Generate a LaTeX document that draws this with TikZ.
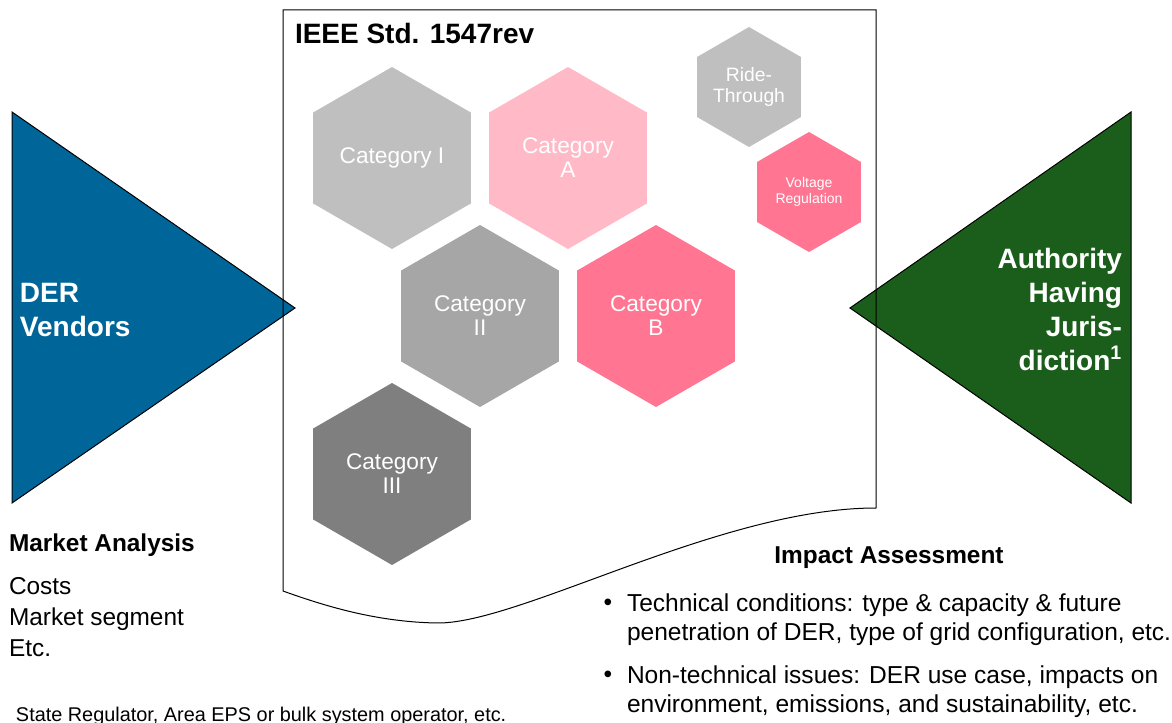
\documentclass[tikz,border=0pt]{standalone}
\usepackage{fontspec}
\setmainfont{Liberation Sans}
\usetikzlibrary{shapes.geometric}

\definecolor{vendorblue}{RGB}{0,102,153}
\definecolor{ahjgreen}{RGB}{27,94,27}
\definecolor{greylight}{RGB}{191,191,191}
\definecolor{greymid}{RGB}{166,166,166}
\definecolor{greydark}{RGB}{127,127,127}
\definecolor{pinklight}{RGB}{255,185,199}
\definecolor{pinkdeep}{RGB}{255,117,146}

\begin{document}
\begin{tikzpicture}[
    x=0.75pt, y=-0.75pt,
    every node/.style={inner sep=0pt, outer sep=0pt},
    hexbig/.style={regular polygon, regular polygon sides=6, shape border rotate=30,
        minimum size=136.5pt, text=white, align=center, font=\fontsize{17}{18}\selectfont},
    hexsmall/.style={hexbig, minimum size=90pt},
    sidelabel/.style={text=white, font=\bfseries\fontsize{21}{25.5}\selectfont},
    heading/.style={font=\bfseries\fontsize{18.3}{21}\selectfont},
    bodytext/.style={align=left, font=\fontsize{18.3}{23.25}\selectfont},
    bullettext/.style={align=left, font=\fontsize{18.4}{21.75}\selectfont}
]
\useasboundingbox (0,0) rectangle (1172,723);

% Side triangles
\filldraw[fill=vendorblue, draw=black, line width=0.75pt] (12,112) -- (295,308) -- (12,503) -- cycle;
\filldraw[fill=ahjgreen, draw=black, line width=0.75pt] (1131,112) -- (850,308) -- (1131,503) -- cycle;

% Standard sheet
\draw[line width=0.75pt] (283,10) -- (876,10) -- (876,508)
    .. controls (720,508) and (520,624) .. (437,623)
    .. controls (380,622) and (330,608) .. (283,591) -- cycle;
\node[anchor=west, font=\bfseries\fontsize{21}{25}\selectfont] (title) at (295,33) {IEEE Std. 1547rev};

% Categories
\node[hexbig, fill=greylight] (catI) at (392,158) {Category I};
\node[hexbig, fill=pinklight] (catA) at (568,158) {Category\\A};
\node[hexbig, fill=greymid] (catII) at (480,316) {Category\\II};
\node[hexbig, fill=pinkdeep] (catB) at (656,316) {Category\\B};
\node[hexbig, fill=greydark] (catIII) at (392,474) {Category\\III};
\node[hexsmall, fill=greylight, font=\fontsize{14.5}{16}\selectfont] (ridethrough) at (749,87) {Ride-\\Through};
\node[hexsmall, fill=pinkdeep, font=\fontsize{10.5}{11.5}\selectfont] (voltreg) at (809,192) {Voltage\\Regulation};

% Stakeholders
\node[sidelabel, anchor=west, align=left] (vendors) at (20,310) {DER\\Vendors};
\node[sidelabel, anchor=east, align=right] (ahj) at (1122,309) {Authority\\Having\\Juris-\\diction\textsuperscript{1}};

% Market analysis
\node[heading, anchor=west] (market) at (9,545) {Market Analysis};
\node[bodytext, anchor=west] (marketitems) at (9,617) {Costs\\Market segment\\Etc.};

% Impact assessment
\node[heading] (impact) at (889,558) {Impact Assessment};
\node[bullettext] (dotA) at (608,605) {\textbullet};
\node[bullettext, anchor=west] (technical) at (627,619.5) {Technical conditions: type \& capacity \& future\\penetration of DER, type of grid configuration, etc.};
\node[bullettext] (dotB) at (608,677) {\textbullet};
\node[bullettext, anchor=west] (nontechnical) at (627,691.5) {Non-technical issues: DER use case, impacts on\\environment, emissions, and sustainability, etc.};

% Footnote
\node[anchor=base west, font=\fontsize{14.9}{17}\selectfont] (footnote) at (16,721) {State Regulator, Area EPS or bulk system operator, etc.};

\end{tikzpicture}
\end{document}
